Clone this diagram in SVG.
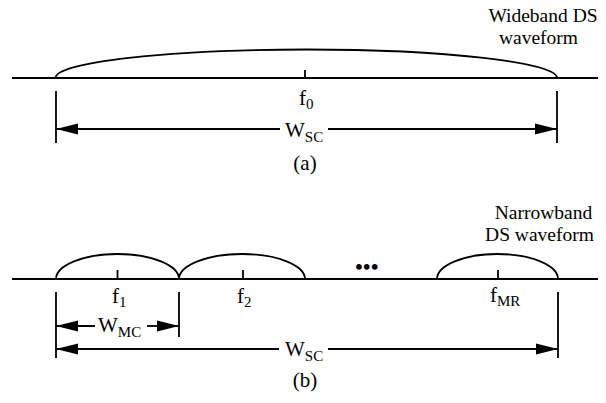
<svg xmlns="http://www.w3.org/2000/svg" width="606" height="403" viewBox="0 0 606 403">
<style>
  .ln{stroke:#000;stroke-width:1.8;fill:none}
  .ar{stroke:#000;stroke-width:1.8;fill:none;marker-end:url(#ah)}
  .t{font-family:"Liberation Serif","Times New Roman",serif;font-size:21px;fill:#000}
  .s{font-size:15px}
  .lab{font-size:19.5px;text-anchor:middle}
</style>
<defs>
  <marker id="ah" markerUnits="userSpaceOnUse" markerWidth="24" markerHeight="14" refX="22" refY="6" orient="auto">
    <path d="M0,0.5 L22,6 L0,11.5 Z" fill="#000"/>
  </marker>
</defs>
<rect width="606" height="403" fill="#fff"/>

<!-- (a) -->
<g id="axis-a">
  <line class="ln" x1="12" y1="78" x2="598" y2="78"/>
  <line class="ln" x1="305" y1="70" x2="305" y2="78"/>
</g>
<g id="wideband">
  <path class="ln" d="M55.5,78 A250.75,28.5 0 0 1 557,78"/>
  <text class="t lab"><tspan x="543" y="22">Wideband DS</tspan><tspan x="538.5" y="44">waveform</tspan></text>
  <text class="t" x="299" y="105">f<tspan class="s" dy="4">0</tspan></text>
</g>
<g id="wsc-a-label">
  <text class="t" x="285" y="137">W<tspan class="s" dy="5">SC</tspan></text>
</g>
<text class="t" x="305" y="170" text-anchor="middle">(a)</text>

<!-- (b) -->
<g id="axis-b">
  <line class="ln" x1="12" y1="279" x2="598" y2="279"/>
</g>
<g id="sub1">
  <path class="ln" d="M56,279 A61.5,25 0 0 1 179,279"/>
  <line class="ln" x1="117.5" y1="270" x2="117.5" y2="279"/>
  <text class="t" x="112" y="303">f<tspan class="s" dy="4">1</tspan></text>
</g>
<g id="sub2">
  <path class="ln" d="M179,279 A63,25 0 0 1 305,279"/>
  <line class="ln" x1="243" y1="270" x2="243" y2="279"/>
  <text class="t" x="237" y="303">f<tspan class="s" dy="4">2</tspan></text>
</g>
<text class="t" x="367" y="274" text-anchor="middle" font-size="14" font-weight="bold" letter-spacing="0.5">•••</text>
<g id="subMR">
  <path class="ln" d="M437,279 A60.5,25 0 0 1 558,279"/>
  <line class="ln" x1="498" y1="270" x2="498" y2="279"/>
  <text class="t" x="490" y="302">f<tspan class="s" dy="4">MR</tspan></text>
  <text class="t lab"><tspan x="543.5" y="219">Narrowband</tspan><tspan x="539.5" y="241">DS waveform</tspan></text>
</g>
<g id="wmc-label">
  <text class="t" x="98" y="332">W<tspan class="s" dy="5">MC</tspan></text>
</g>
<g id="wsc-b-label">
  <text class="t" x="285" y="356">W<tspan class="s" dy="5">SC</tspan></text>
</g>
<text class="t" x="305" y="387" text-anchor="middle">(b)</text>

<!-- connectors: dimension lines -->
<g id="connectors">
  <line class="ln" x1="56" y1="91" x2="56" y2="143"/>
  <line class="ln" x1="557" y1="91" x2="557" y2="143"/>
  <line class="ar" x1="280" y1="129" x2="56" y2="129"/>
  <line class="ar" x1="328" y1="129" x2="557" y2="129"/>

  <line class="ln" x1="56" y1="292" x2="56" y2="358"/>
  <line class="ln" x1="179" y1="292" x2="179" y2="337"/>
  <line class="ln" x1="558" y1="292" x2="558" y2="358"/>
  <line class="ar" x1="95" y1="326" x2="56" y2="326"/>
  <line class="ar" x1="147" y1="326" x2="179" y2="326"/>
  <line class="ar" x1="279" y1="349" x2="56" y2="349"/>
  <line class="ar" x1="328" y1="349" x2="558" y2="349"/>
</g>
</svg>
